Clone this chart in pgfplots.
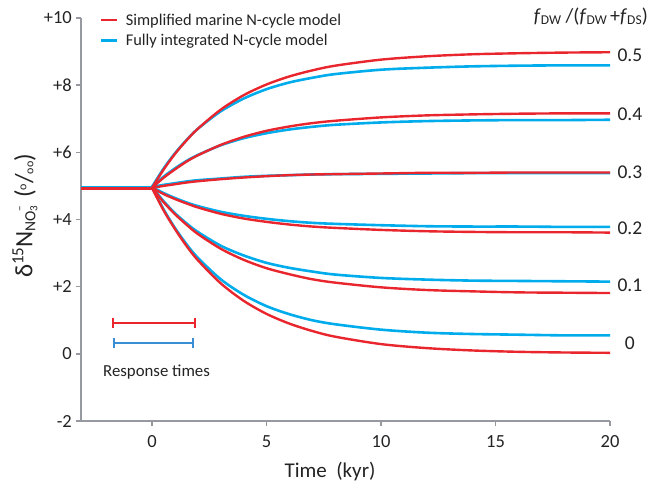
\documentclass[border=0pt]{standalone}
\usepackage{fontspec}
\setmainfont{Carlito}
\usepackage{pgfplots}
\usepackage{pgfplotstable}
\pgfplotsset{compat=1.18}
\definecolor{cred}{RGB}{233,38,45}
\definecolor{cblue}{RGB}{0,172,236}
\definecolor{cbar}{RGB}{58,142,212}
\definecolor{cgray}{RGB}{150,154,160}
\definecolor{ctext}{RGB}{35,35,35}
\pgfplotstableread{
t    r5   r4   r3   r2   r1   r0   b5   b4   b3   b2   b1   b0
0    4.94 4.94 4.94 4.94 4.94 4.94 4.97 4.97 4.97 4.97 4.97 4.97
0.5  5.48 5.24 5.00 4.76 4.52 4.28 5.51 5.27 5.03 4.79 4.55 4.31
1    5.95 5.49 5.05 4.61 4.16 3.72 5.97 5.52 5.08 4.64 4.19 3.75
1.5  6.35 5.72 5.10 4.48 3.85 3.22 6.36 5.74 5.13 4.51 3.89 3.27
2    6.70 5.91 5.14 4.36 3.57 2.79 6.70 5.92 5.17 4.40 3.63 2.86
3    7.27 6.22 5.20 4.17 3.13 2.10 7.22 6.21 5.22 4.23 3.22 2.22
4    7.70 6.46 5.25 4.03 2.80 1.58 7.60 6.42 5.27 4.11 2.93 1.76
5    8.02 6.64 5.29 3.93 2.55 1.19 7.88 6.57 5.30 4.02 2.71 1.42
6    8.26 6.77 5.32 3.85 2.37 0.90 8.08 6.68 5.32 3.95 2.56 1.18
7    8.44 6.87 5.34 3.79 2.22 0.68 8.22 6.76 5.34 3.90 2.45 1.00
8    8.58 6.94 5.35 3.75 2.12 0.51 8.33 6.82 5.35 3.87 2.36 0.88
10   8.76 7.04 5.37 3.69 1.98 0.29 8.46 6.89 5.36 3.83 2.26 0.72
12   8.86 7.10 5.39 3.65 1.90 0.17 8.52 6.93 5.37 3.80 2.21 0.63
14   8.92 7.13 5.39 3.63 1.86 0.10 8.56 6.95 5.38 3.79 2.18 0.59
16   8.95 7.15 5.40 3.62 1.83 0.06 8.58 6.96 5.38 3.79 2.17 0.57
18   8.97 7.16 5.40 3.62 1.82 0.04 8.59 6.96 5.38 3.78 2.16 0.55
20   8.98 7.16 5.40 3.61 1.81 0.03 8.59 6.97 5.38 3.78 2.15 0.55
}\curves
\begin{document}
\begin{tikzpicture}
\useasboundingbox (0,0) rectangle (649bp,483bp);
\begin{axis}[
  at={(81bp,62bp)}, anchor=south west,
  scale only axis, width=529bp, height=403bp,
  xmin=-3.1, xmax=20, ymin=-2, ymax=10,
  axis x line=bottom, axis y line=left,
  axis line style={-, cgray, line width=2.2bp},
  xtick={0,5,10,15,20},
  ytick={-2,0,2,4,6,8,10},
  yticklabels={-2,0,+2,+4,+6,+8,+10},
  tick align=outside, major tick length=5bp,
  tick style={cgray, line width=1.5bp},
  /pgf/number format/assume math mode=true,
  ticklabel style={font=\fontsize{18.5bp}{21bp}\selectfont, text=ctext, inner sep=0pt},
  xticklabel style={anchor=north, yshift=-9bp},
  yticklabel style={anchor=east, xshift=-4bp},
  xlabel={Time\ \ (kyr)},
  xlabel style={at={(axis description cs:0.4707,-0.1407)}, anchor=base, font=\fontsize{21bp}{24bp}\selectfont, text=ctext, inner sep=0pt},
  clip=false,
  legend style={draw=none, fill=none, at={(axis description cs:0.035,1.015)}, anchor=north west,
    font=\fontsize{16.4bp}{19bp}\selectfont, text=ctext, inner sep=0pt, row sep=4.5bp,
    nodes={inner sep=1.5bp}, legend cell align=left,
    /tikz/every odd column/.append style={column sep=6bp}},
  legend image code/.code={\draw[#1] (0bp,0bp) -- (16bp,0bp);},
]
\addlegendimage{cred, line width=2.6bp}
\addlegendentry{Simplified marine N-cycle model}
\addlegendimage{cblue, line width=2.6bp}
\addlegendentry{Fully integrated N-cycle model}

% flat pre-perturbation segments
\addplot[cblue, line width=2.6bp, forget plot] coordinates {(-3.1,4.97) (0,4.97)};
\addplot[cred, line width=2.6bp, forget plot] coordinates {(-3.1,4.93) (0,4.93)};

% fully integrated model
\foreach \c in {b5,b4,b3,b2,b1,b0}{
  \addplot[cblue, line width=2.6bp, smooth, forget plot] table[x=t, y=\c] {\curves};
}
% simplified model
\foreach \c in {r5,r4,r3,r2,r1,r0}{
  \addplot[cred, line width=2.4bp, smooth, forget plot] table[x=t, y=\c] {\curves};
}

% response times
\addplot[cred, line width=2bp, mark=|, mark size=5bp, mark options={solid, line width=2bp}, forget plot]
  coordinates {(-1.69,0.93) (1.88,0.93)};
\addplot[cbar, line width=2bp, mark=|, mark size=5bp, mark options={solid, line width=2bp}, forget plot]
  coordinates {(-1.66,0.31) (1.80,0.31)};
\node[font=\fontsize{16.8bp}{19bp}\selectfont, text=ctext, inner sep=0pt] at (axis cs:0.2,-0.54) {Response times};

% ratio labels
\begin{scope}[every node/.style={font=\fontsize{19.5bp}{22bp}\selectfont, text=ctext, inner sep=0pt}]
\node at (axis cs:20.87,8.90) {0.5};
\node at (axis cs:20.87,7.14) {0.4};
\node at (axis cs:20.87,5.42) {0.3};
\node at (axis cs:20.87,3.75) {0.2};
\node at (axis cs:20.87,2.05) {0.1};
\node at (axis cs:20.87,0.33) {0};
\end{scope}
\node[anchor=east, font=\fontsize{20bp}{22bp}\selectfont, text=ctext, inner sep=0pt] at (axis cs:21.66,10.03)
  {\textit{f}\raisebox{-2bp}{\fontsize{13.5bp}{13bp}\selectfont DW}\ /(\textit{f}\raisebox{-2bp}{\fontsize{13.5bp}{13bp}\selectfont DW}\,+\textit{f}\raisebox{-2bp}{\fontsize{13.5bp}{13bp}\selectfont DS})};

% y label
\node[rotate=90, text=ctext, inner sep=0pt, font=\fontsize{25bp}{28bp}\selectfont] at (axis description cs:-0.106,0.509)
  {δ\raisebox{9bp}{\fontsize{17bp}{17bp}\selectfont 15}N\raisebox{-3bp}{\fontsize{15.5bp}{16bp}\selectfont NO}\raisebox{-5bp}{\fontsize{11bp}{11bp}\selectfont 3}\kern-5.5bp\raisebox{9bp}{\fontsize{11bp}{11bp}\selectfont −}\hspace{8bp}(\raisebox{6bp}{\fontsize{12bp}{12bp}\selectfont o}/\raisebox{-1bp}{\fontsize{12bp}{12bp}\selectfont oo})};
\end{axis}
\end{tikzpicture}
\end{document}
